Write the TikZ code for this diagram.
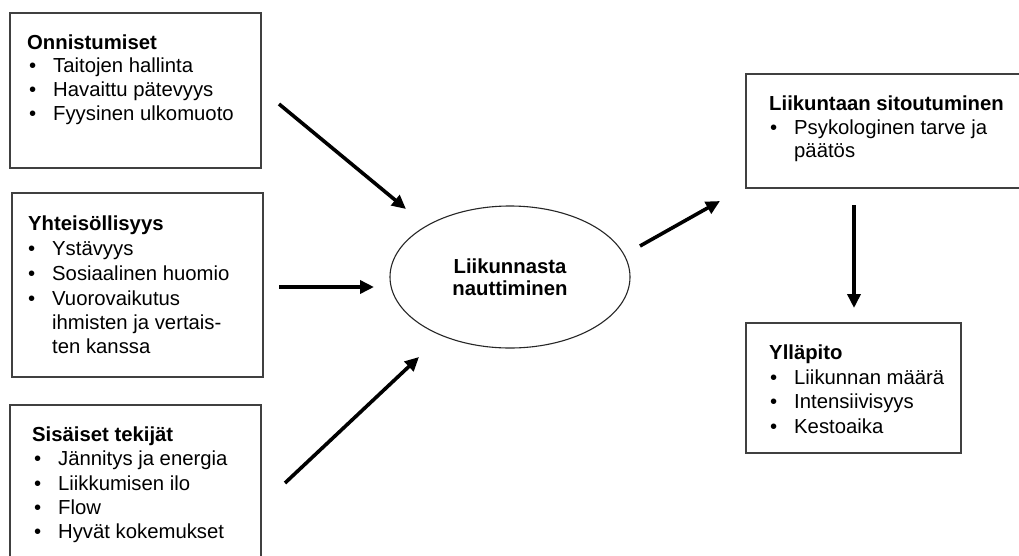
\documentclass[tikz,border=0pt]{standalone}
\usepackage{fontspec}
\setmainfont{Liberation Sans}
\usetikzlibrary{arrows.meta,shapes.geometric}
\begin{document}
\begin{tikzpicture}[x=1pt,y=-1pt,
  every node/.style={font=\fontsize{20.3}{24}\selectfont},
  frame/.style={draw=black!75,line width=1.3pt,rectangle,inner sep=0pt},
  ttl/.style={anchor=base west,inner sep=0pt,font=\fontsize{20.3}{24}\selectfont\bfseries},
  itm/.style={anchor=base west,inner sep=0pt,execute at begin node={\llap{\textbullet\hspace{17pt}}}},
  cont/.style={anchor=base west,inner sep=0pt},
  arr/.style={line width=3.6pt,-{Triangle[length=14pt,width=13pt]}},
  oval/.style={draw=black!85,line width=1.1pt,ellipse,inner sep=0pt,minimum width=240pt,minimum height=142pt,align=center,font=\fontsize{20.3}{22}\selectfont\bfseries}]
\useasboundingbox[fill=white] (0,0) rectangle (1019,555);
% boxes
\node[frame,minimum width=251pt,minimum height=155pt] (b1) at (135.5,90.5) {};
\node[frame,minimum width=251pt,minimum height=184pt] (b2) at (137.5,285) {};
\node[frame,minimum width=251pt,minimum height=165pt] (b3) at (135.5,487.5) {};
\node[frame,minimum width=285pt,minimum height=114pt] (b4) at (888.5,131) {};
\node[frame,minimum width=215pt,minimum height=130pt] (b5) at (853.5,388) {};
% texts box 1
\node[ttl] (t1) at (27,49) {Onnistumiset};
\node[itm] (t1a) at (53,72) {Taitojen hallinta};
\node[itm] (t1b) at (53,96) {Havaittu pätevyys};
\node[itm] (t1c) at (53,120) {Fyysinen ulkomuoto};
% box 2
\node[ttl] (t2) at (28,230) {Yhteisöllisyys};
\node[itm] (t2a) at (52,255) {Ystävyys};
\node[itm] (t2b) at (52,280) {Sosiaalinen huomio};
\node[itm] (t2c) at (52,305) {Vuorovaikutus};
\node[cont] (t2d) at (52,329) {ihmisten ja vertais-};
\node[cont] (t2e) at (52,353) {ten kanssa};
% box 3
\node[ttl] (t3) at (32,441) {Sisäiset tekijät};
\node[itm] (t3a) at (58,465) {Jännitys ja energia};
\node[itm] (t3b) at (58,490) {Liikkumisen ilo};
\node[itm] (t3c) at (58,514) {Flow};
\node[itm] (t3d) at (58,538) {Hyvät kokemukset};
% box 4
\node[ttl] (t4) at (769,110) {Liikuntaan sitoutuminen};
\node[itm] (t4a) at (794,134) {Psykologinen tarve ja};
\node[cont] (t4b) at (794,157) {päätös};
% box 5
\node[ttl] (t5) at (769,359) {Ylläpito};
\node[itm] (t5a) at (794,384) {Liikunnan määrä};
\node[itm] (t5b) at (794,408) {Intensiivisyys};
\node[itm] (t5c) at (794,433) {Kestoaika};
% ellipse
\node[oval] (e) at (510,277) {Liikunnasta\\nauttiminen};
% arrow ends
\coordinate (a1s) at (279,104); \coordinate (a1e) at (406,209);
\coordinate (a2s) at (279,287); \coordinate (a2e) at (374,287);
\coordinate (a3s) at (285,483); \coordinate (a3e) at (419,357);
\coordinate (a4s) at (640,246); \coordinate (a4e) at (720,201);
\coordinate (a5s) at (854,205); \coordinate (a5e) at (854,308);
\draw[arr] (a1s) -- (a1e);
\draw[arr] (a2s) -- (a2e);
\draw[arr] (a3s) -- (a3e);
\draw[arr] (a4s) -- (a4e);
\draw[arr] (a5s) -- (a5e);
\end{tikzpicture}
\end{document}
